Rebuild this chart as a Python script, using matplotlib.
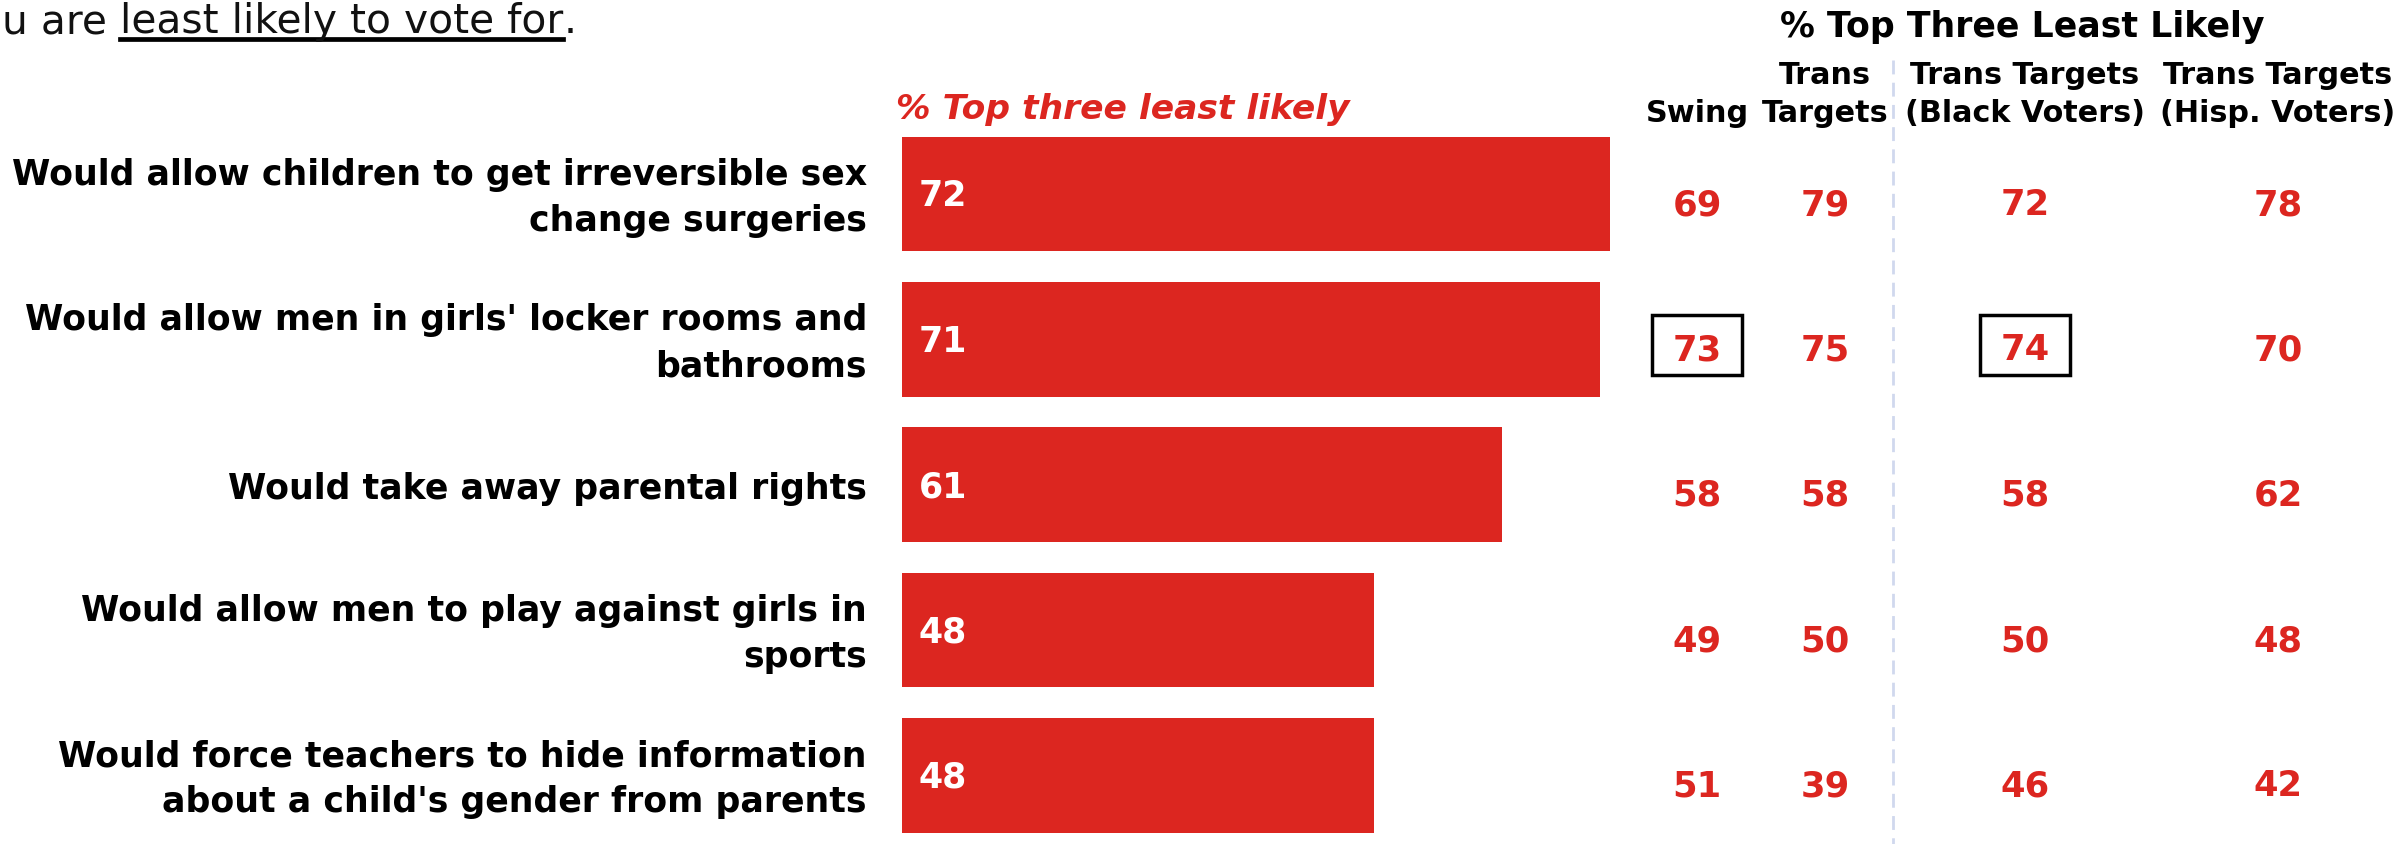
import matplotlib
matplotlib.use('Agg')
import matplotlib.pyplot as plt
from matplotlib.patches import Rectangle

# ---------------- data ----------------
categories = [
    "Would allow children to get irreversible sex\nchange surgeries",
    "Would allow men in girls' locker rooms and\nbathrooms",
    "Would take away parental rights",
    "Would allow men to play against girls in\nsports",
    "Would force teachers to hide information\nabout a child's gender from parents",
]
overall = [72, 71, 61, 48, 48]
column_headers = ["Swing", "Trans\nTargets", "Trans Targets\n(Black Voters)", "Trans Targets\n(Hisp. Voters)"]
swing = [69, 73, 58, 49, 51]
trans_targets = [79, 75, 58, 50, 39]
black_voters = [72, 74, 58, 50, 46]
hisp_voters = [78, 70, 62, 48, 42]
highlighted = [(0, 1), (2, 1)]  # (column index, row index)

bar_title = "% Top three least likely"
table_title = "% Top Three Least Likely"
subtitle_pre = "u are "
subtitle_ul = "least likely to vote for"
subtitle_post = "."

# ---------------- layout ----------------
W, H = 2402, 845
RED = '#DC2620'
FONT = 'DejaVu Sans'

fig = plt.figure(figsize=(W / 100, H / 100), dpi=100)
ax = fig.add_axes([0, 0, 1, 1])
ax.axis('off')

x0 = 902          # pixel where bar value 0 sits
ppu = 9.83        # pixels per unit
y0 = 195          # pixel centre of first row
pitch = 145.3     # pixels between rows
ax.set_xlim(-x0 / ppu, (W - x0) / ppu)
ax.set_ylim((H - y0) / pitch, -y0 / pitch)

rows = list(range(len(categories)))
ax.barh(rows, overall, height=0.79, color=RED, left=0)

def px2x(px):
    return (px - x0) / ppu

def py2y(py):
    return (py - y0) / pitch

for i, (cat, v) in enumerate(zip(categories, overall)):
    ax.text(px2x(919), i + 0.01, str(v), color='white', fontsize=25, fontweight='bold',
            family=FONT, ha='left', va='center')
    ax.text(px2x(867), i + 0.02, cat, color='black', fontsize=25, fontweight='bold',
            family=FONT, ha='right', va='center', multialignment='right',
            linespacing=1.45)

col_px = [1697, 1825, 2025, 2278]
table = [swing, trans_targets, black_voters, hisp_voters]
for c, (cx, vals) in enumerate(zip(col_px, table)):
    for i, v in enumerate(vals):
        ax.text(px2x(cx), i + 0.07, str(v), color=RED, fontsize=25.5, fontweight='bold',
                family=FONT, ha='center', va='center')
    fig.text(cx / W, 1 - 122 / H, column_headers[c], fontsize=21.8, fontweight='bold',
             family=FONT, ha='center', va='baseline', multialignment='center',
             linespacing=1.4)

box_w, box_h = 90 / ppu, 60 / pitch
for c, r in highlighted:
    cx = px2x(col_px[c])
    cy = r + 0.04
    ax.add_patch(Rectangle((cx - box_w / 2, cy - box_h / 2), box_w, box_h,
                           fill=False, edgecolor='black', lw=2.5, zorder=5))

ax.plot([px2x(1893), px2x(1893)], [py2y(61), py2y(H)], color='#D0D8EE', lw=2.0,
        linestyle=(0, (5, 3)))

fig.text(896 / W, 1 - 109 / H, bar_title, color=RED, fontsize=24.8, fontweight='bold',
         fontstyle='italic', family=FONT, ha='left', va='center')
fig.text(2022 / W, 1 - 27 / H, table_title, color='black', fontsize=25, fontweight='bold',
         family=FONT, ha='center', va='center')

# subtitle, starting at the left edge
renderer = fig.canvas.get_renderer()
sub_y = 1 - 33 / H
sub_kw = dict(fontsize=29.3, family=FONT, va='baseline', color='#111111')
t1 = fig.text(2 / W, sub_y, subtitle_pre, ha='left', **sub_kw)
e1 = t1.get_window_extent(renderer)
t2 = fig.text(e1.x1 / W, sub_y, subtitle_ul, ha='left', **sub_kw)
e2 = t2.get_window_extent(renderer)
t3 = fig.text(e2.x1 / W, sub_y, subtitle_post, ha='left', **sub_kw)
ul_y = 1 - 40 / H
fig.add_artist(plt.Line2D([e2.x0 / W, e2.x1 / W], [ul_y, ul_y], color='black', lw=3.4,
                          transform=fig.transFigure))

fig.savefig('out.png', dpi=100, facecolor='white')
